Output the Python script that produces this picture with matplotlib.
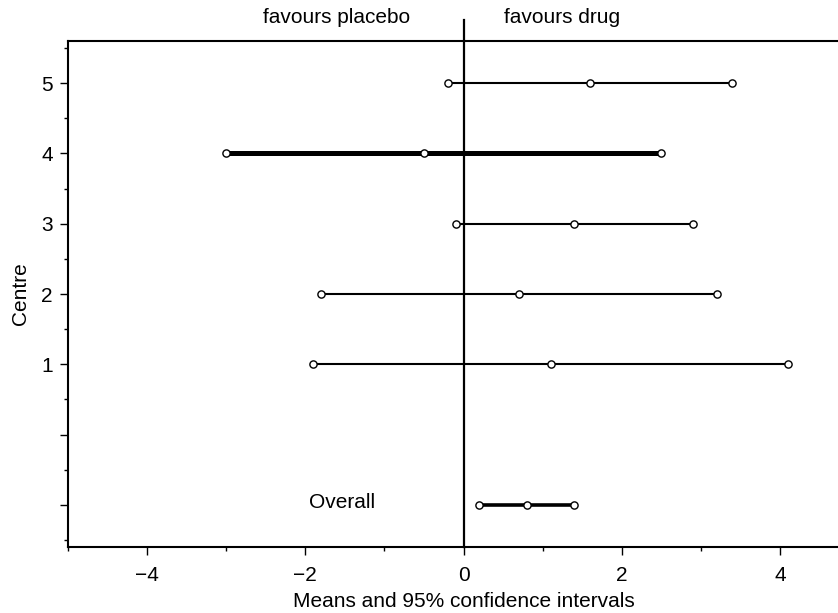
import matplotlib
matplotlib.use('Agg')
import matplotlib.pyplot as plt
from matplotlib.ticker import FixedLocator, FixedFormatter

plt.rcParams['font.family'] = ['Liberation Sans', 'DejaVu Sans']

# data
centres = [5, 4, 3, 2, 1]
lower = [-0.2, -3.0, -0.1, -1.8, -1.9]
means = [1.6, -0.5, 1.4, 0.7, 1.1]
upper = [3.4, 2.5, 2.9, 3.2, 4.1]
widths = [1.5, 3.6, 1.5, 1.5, 1.5]

overall_y = -1
overall_lower = 0.2
overall_mean = 0.8
overall_upper = 1.4

fs = 15

fig = plt.figure(figsize=(8.38, 6.13), dpi=100)
ax = fig.add_axes([68 / 838, 66 / 613, 791 / 838, 506 / 613])

def draw_ci(y, lo, m, hi, lw):
    ax.plot([lo, hi], [y, y], color='black', lw=lw, solid_capstyle='butt', zorder=2)
    ax.plot([lo, m, hi], [y, y, y], ls='none', marker='o', ms=5.2,
            mfc='white', mec='black', mew=1.0, zorder=3)

for c, lo, m, hi, w in zip(centres, lower, means, upper, widths):
    draw_ci(c, lo, m, hi, w)
draw_ci(overall_y, overall_lower, overall_mean, overall_upper, 2.6)

ax.set_xlim(-5, 5)
ax.set_ylim(-1.6, 5.6)

# line of no effect, reaching above the box
ax.plot([0, 0], [-1.6, 5.9], color='black', lw=1.6, clip_on=False, zorder=4)
ax.text(-1.6, 5.93, 'favours placebo', ha='center', va='center', fontsize=fs)
ax.text(1.24, 5.93, 'favours drug', ha='center', va='center', fontsize=fs)
ax.text(-1.53, overall_y + 0.04, 'Overall', ha='center', va='center', fontsize=fs)

ax.xaxis.set_major_locator(FixedLocator([-4, -2, 0, 2, 4]))
ax.xaxis.set_major_formatter(FixedFormatter(['\u22124', '\u22122', '0', '2', '4']))
ax.xaxis.set_minor_locator(FixedLocator([-5, -3, -1, 1, 3, 5]))
ax.yaxis.set_major_locator(FixedLocator([-1, 0, 1, 2, 3, 4, 5]))
ax.yaxis.set_major_formatter(FixedFormatter(['', '', '1', '2', '3', '4', '5']))
ax.yaxis.set_minor_locator(FixedLocator([-1.5, -0.5, 0.5, 1.5, 2.5, 3.5, 4.5, 5.5]))

ax.tick_params(which='major', length=6, width=1.0, labelsize=fs, pad=5)
ax.tick_params(axis='x', which='major', pad=8)
ax.tick_params(which='minor', length=3, width=1.0)
for s in ax.spines.values():
    s.set_linewidth(1.5)
ax.spines['right'].set_visible(False)

ax.set_xlabel('Means and 95% confidence intervals', fontsize=fs, labelpad=5)
ax.set_ylabel('Centre', fontsize=fs, labelpad=8)

fig.savefig('out.png', dpi=100)
